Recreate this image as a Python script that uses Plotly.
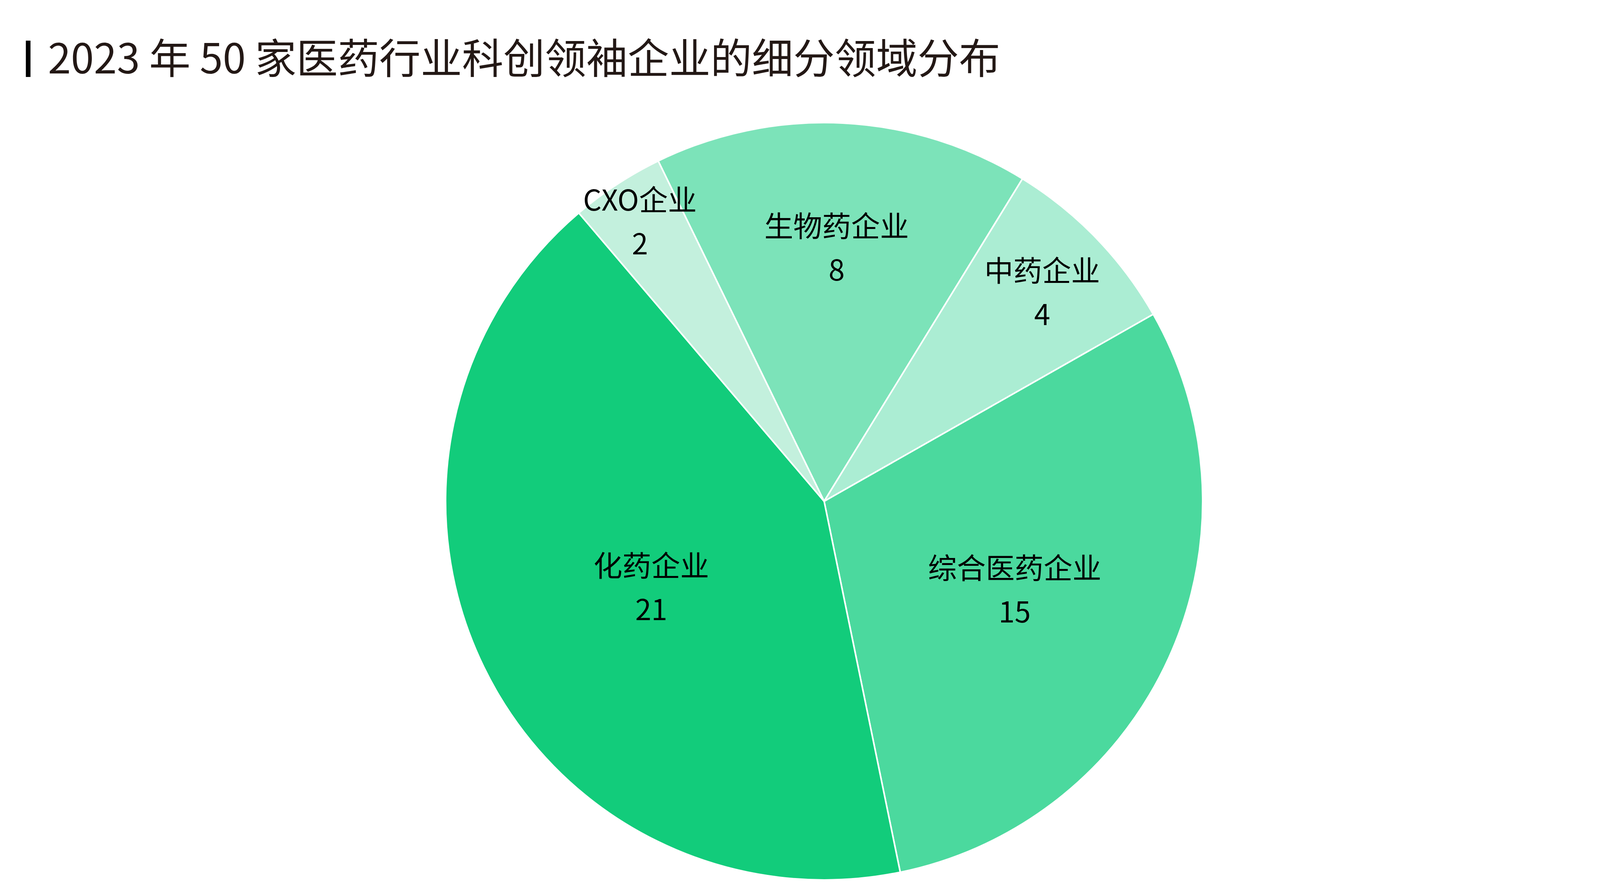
import plotly.graph_objects as go

# 2023年50家医药行业科创领袖企业的细分领域分布
segments = ["生物药企业", "中药企业", "综合医药企业", "化药企业", "CXO企业"]
counts = [8, 4, 15, 21, 2]
colors = ["#7CE3B9", "#ABEDD3", "#4BD99E", "#12CC7B", "#C3F0DD"]

title_text = "2023 年 50 家医药行业科创领袖企业的细分领域分布"

# base font is small so two <br> give the wider gap between name and number
label_size = 74
base_size = 43

fig = go.Figure(go.Pie(
    labels=segments,
    values=counts,
    sort=False,
    direction="clockwise",
    rotation=-26,
    marker=dict(colors=colors, line=dict(color="white", width=4)),
    texttemplate=(f"<span style='font-size:{label_size}px'>%{{label}}</span><br><br>"
                  f"<span style='font-size:{label_size}px'>%{{value}}</span>"),
    textposition="inside",
    insidetextorientation="horizontal",
    textfont=dict(family="Noto Sans CJK SC", size=base_size, color="#000000"),
    hoverinfo="label+value",
    domain=dict(x=[0.2, 0.79], y=[0.0214, 0.8666]),
    showlegend=False,
))

fig.update_layout(
    width=4246,
    height=2293,
    paper_bgcolor="white",
    plot_bgcolor="white",
    margin=dict(l=0, r=0, t=0, b=0),
    font=dict(family="Noto Sans CJK SC"),
    uniformtext=dict(minsize=base_size, mode="show"),
    title=dict(
        text=title_text,
        x=0.027, xanchor="left",
        y=0.9376, yanchor="middle",
        yref="container",
        font=dict(family="Noto Sans CJK SC", size=106, color="#231815"),
    ),
    shapes=[dict(type="rect", xref="paper", yref="paper",
                 x0=0.0137, x1=0.0165, y0=0.9176, y1=0.9581,
                 fillcolor="#000000", line=dict(width=0))],
)

fig.write_html("out.html")
